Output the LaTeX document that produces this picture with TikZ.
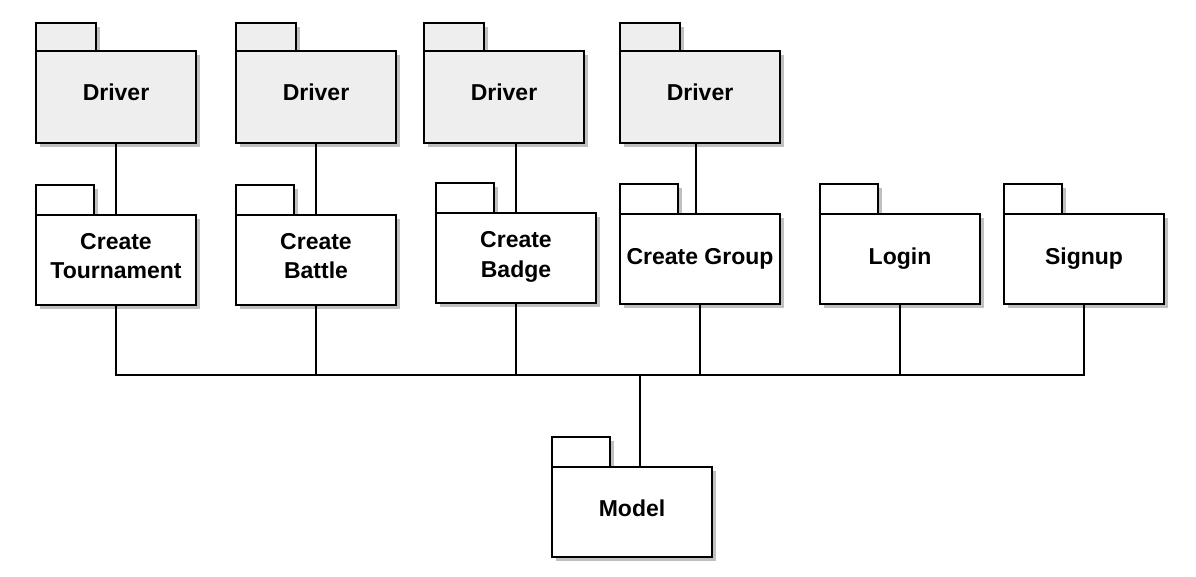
\documentclass[tikz,border=0pt]{standalone}
\usepackage{fontspec}
\setmainfont{Liberation Sans}
\usetikzlibrary{positioning,shadows}

\definecolor{driverfill}{RGB}{238,238,238}
\definecolor{shadowgray}{RGB}{192,192,192}

\tikzset{
    pkgshadow/.style={drop shadow={shadow xshift=4pt, shadow yshift=-4pt, fill=shadowgray, opacity=1}},
    pkgtab/.style={draw, line width=1.8pt, fill=white, inner sep=0pt, outer sep=0pt,
        minimum width=58pt, minimum height=30pt, anchor=north west, pkgshadow},
    pkg/.style={draw, line width=1.8pt, fill=white, inner sep=0pt, outer sep=0pt,
        minimum width=160pt, minimum height=90pt, anchor=north west, align=center,
        font=\fontsize{23}{29}\selectfont\bfseries, text height=16.5pt, text depth=8.5pt, pkgshadow},
    twoline/.style={text height=42pt, text depth=4pt},
    lowline/.style={text depth=4.5pt},
    drivertab/.style={pkgtab, fill=driverfill, minimum width=60pt, minimum height=28pt},
    driver/.style={pkg, fill=driverfill, minimum height=92pt},
    wire/.style={line width=1.6pt},
    modelwire/.style={line width=2.6pt}
}

\begin{document}
\begin{tikzpicture}[x=1pt, y=-1pt]
    \useasboundingbox (0,0) rectangle (1196,577);

    % driver packages
    \node[drivertab] (d1tab) at (36,23) {};
    \node[driver] (d1) at (d1tab.south west) {Driver};
    \node[drivertab] (d2tab) at (236,23) {};
    \node[driver] (d2) at (d2tab.south west) {Driver};
    \node[drivertab] (d3tab) at (424,23) {};
    \node[driver] (d3) at (d3tab.south west) {Driver};
    \node[drivertab] (d4tab) at (620,23) {};
    \node[driver] (d4) at (d4tab.south west) {Driver};

    % feature packages
    \node[pkgtab] (tourntab) at (36,185) {};
    \node[pkg, twoline] (tourn) at (tourntab.south west) {Create\\Tournament};
    \node[pkgtab] (battletab) at (236,185) {};
    \node[pkg, twoline] (battle) at (battletab.south west) {Create\\Battle};
    \node[pkgtab] (badgetab) at (436,183) {};
    \node[pkg, twoline] (badge) at (badgetab.south west) {Create\\Badge};
    \node[pkgtab] (grouptab) at (620,184) {};
    \node[pkg, lowline] (group) at (grouptab.south west) {Create Group};
    \node[pkgtab] (logintab) at (820,184) {};
    \node[pkg, lowline] (login) at (logintab.south west) {Login};
    \node[pkgtab] (signuptab) at (1004,184) {};
    \node[pkg, lowline] (signup) at (signuptab.south west) {Signup};

    % model package
    \node[pkgtab] (modeltab) at (552,437) {};
    \node[pkg] (model) at (modeltab.south west) {Model};

    % drivers to features
    \draw[wire] (d1.south) -- (tourn.north);
    \draw[wire] (d2.south) -- (battle.north);
    \draw[wire] (badge.north |- d3.south) -- (badge.north);
    \draw[wire] ([xshift=-4pt]group.north |- d4.south) -- ([xshift=-4pt]group.north);

    % features to model
    \coordinate (bus) at (640,375);
    \draw[wire] (tourn.south) |- (bus);
    \draw[wire] (signup.south) |- (bus);
    \foreach \p in {battle,badge,group,login}
    {
        \draw[wire] (\p.south) -- (\p.south |- bus);
    }
    \draw[modelwire] (bus) -- (bus |- model.north);

\end{tikzpicture}
\end{document}
